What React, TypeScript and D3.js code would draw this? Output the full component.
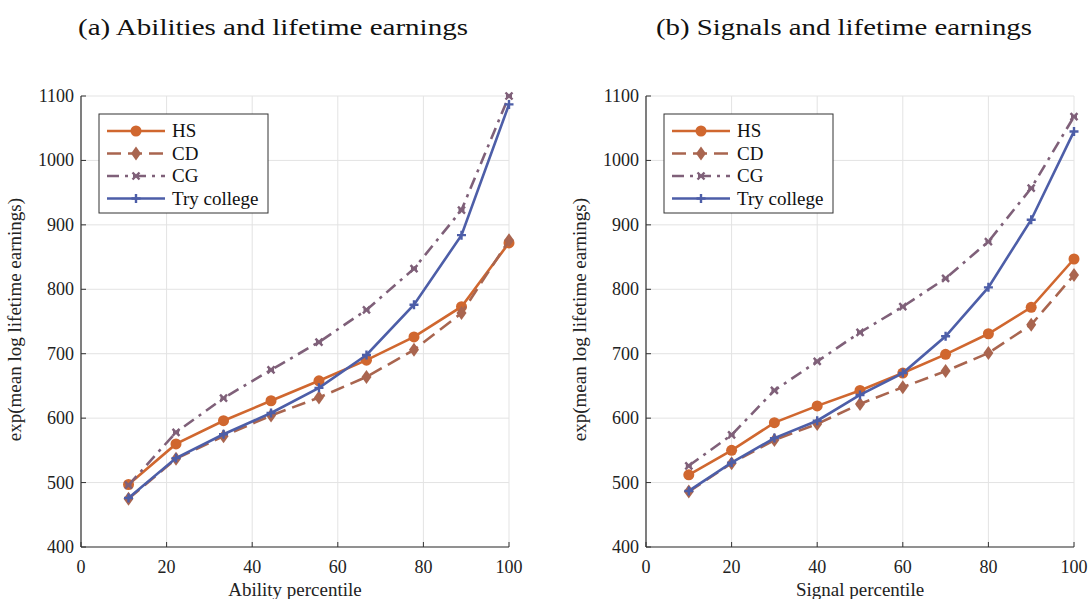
import React from "react";
import * as d3 from "d3";

// Percentile grids for the two panels
const abilityPct = [11.1, 22.2, 33.3, 44.4, 55.6, 66.7, 77.8, 88.9, 100];
const signalPct = [10, 20, 30, 40, 50, 60, 70, 80, 90, 100];

// Panel (a): earnings by ability percentile
const abilityHS = [497, 560, 596, 627, 658, 690, 726, 773, 872];
const abilityCD = [475, 537, 572, 604, 632, 664, 706, 763, 876];
const abilityCG = [496, 578, 631, 675, 718, 768, 832, 923, 1100];
const abilityTry = [476, 538, 575, 608, 647, 698, 776, 884, 1087];

// Panel (b): earnings by signal percentile
const signalHS = [512, 550, 593, 619, 643, 670, 699, 731, 772, 847];
const signalCD = [486, 530, 566, 591, 622, 648, 673, 701, 745, 822];
const signalCG = [526, 574, 643, 688, 733, 773, 817, 874, 957, 1068];
const signalTry = [487, 531, 569, 596, 636, 670, 727, 803, 908, 1045];

const xTicks = [0, 20, 40, 60, 80, 100];
const yTicks = [400, 500, 600, 700, 800, 900, 1000, 1100];

const seriesNames = ["HS", "CD", "CG", "Try college"];

const FONT = "'Liberation Serif', 'DejaVu Serif', serif";

type Style = { color: string; dash: string; marker: "circle" | "diamond" | "x" | "plus" };
const styles: Style[] = [
  { color: "#d0672f", dash: "", marker: "circle" },
  { color: "#a9654f", dash: "14 7", marker: "diamond" },
  { color: "#7f6079", dash: "12 6 3 6", marker: "x" },
  { color: "#4d5ea8", dash: "", marker: "plus" },
];

function Marker({ kind, x, y, color }: { kind: Style["marker"]; x: number; y: number; color: string }) {
  if (kind === "circle") return <circle cx={x} cy={y} r={5.5} fill={color} />;
  if (kind === "diamond")
    return <path d={`M${x},${y - 7}L${x + 5},${y}L${x},${y + 7}L${x - 5},${y}Z`} fill={color} />;
  if (kind === "x")
    return (
      <path
        d={`M${x - 3.5},${y - 3.5}L${x + 3.5},${y + 3.5}M${x - 3.5},${y + 3.5}L${x + 3.5},${y - 3.5}M${x - 3},${y}L${x + 3},${y}`}
        stroke={color}
        strokeWidth={2.4}
      />
    );
  return (
    <path d={`M${x - 4.5},${y}L${x + 4.5},${y}M${x},${y - 4.5}L${x},${y + 4.5}`} stroke={color} strokeWidth={2.4} />
  );
}

function Panel({
  left,
  title,
  titleX,
  titleW,
  xLabel,
  xs,
  ys,
}: {
  left: number;
  title: string;
  titleX: number;
  titleW: number;
  xLabel: string;
  xs: number[];
  ys: number[][];
}) {
  const x = d3.scaleLinear().domain([0, 100]).range([left, left + 428]);
  const y = d3.scaleLinear().domain([400, 1100]).range([547, 96]);
  const line = d3
    .line<number>()
    .x((_, i) => x(xs[i]))
    .y((d) => y(d));
  const lx = left + 18;
  const ly = 114;
  return (
    <g fontFamily={FONT}>
      <text x={titleX} y={35} fontSize={24} fill="#111" textLength={titleW} lengthAdjust="spacingAndGlyphs">
        {title}
      </text>
      {/* grid */}
      {xTicks.map((t) => (
        <line key={"gx" + t} x1={x(t)} x2={x(t)} y1={y(400)} y2={y(1100)} stroke="#e3e3e3" strokeWidth={1} />
      ))}
      {yTicks.map((t) => (
        <line key={"gy" + t} x1={x(0)} x2={x(100)} y1={y(t)} y2={y(t)} stroke="#e3e3e3" strokeWidth={1} />
      ))}
      {/* axes */}
      <line x1={x(0)} x2={x(0)} y1={y(400)} y2={y(1100)} stroke="#333" strokeWidth={1.2} />
      <line x1={x(0)} x2={x(100)} y1={y(400)} y2={y(400)} stroke="#333" strokeWidth={1.2} />
      {xTicks.map((t) => (
        <g key={"tx" + t}>
          <line x1={x(t)} x2={x(t)} y1={y(400)} y2={y(400) - 5} stroke="#333" strokeWidth={1} />
          <text x={x(t)} y={573} textAnchor="middle" fontSize={18} fill="#222">
            {t}
          </text>
        </g>
      ))}
      {yTicks.map((t) => (
        <g key={"ty" + t}>
          <line x1={x(0)} x2={x(0) + 5} y1={y(t)} y2={y(t)} stroke="#333" strokeWidth={1} />
          <text x={x(0) - 7} y={y(t) + 6} textAnchor="end" fontSize={18} fill="#222">
            {t}
          </text>
        </g>
      ))}
      <text x={x(50)} y={596} textAnchor="middle" fontSize={19} fill="#222">
        {xLabel}
      </text>
      <text
        transform={`translate(${left - 60},${y(753)}) rotate(-90)`}
        textAnchor="middle"
        fontSize={19}
        fill="#222"
      >
        exp(mean log lifetime earnings)
      </text>
      {/* series */}
      {ys.map((s, k) => (
        <g key={"s" + k}>
          <path
            d={line(s) || ""}
            fill="none"
            stroke={styles[k].color}
            strokeWidth={2.6}
            strokeDasharray={styles[k].dash}
          />
          {s.map((v, i) => (
            <Marker key={i} kind={styles[k].marker} x={x(xs[i])} y={y(v)} color={styles[k].color} />
          ))}
        </g>
      ))}
      {/* legend */}
      <rect x={lx} y={ly} width={169} height={99} fill="#fff" stroke="#333" strokeWidth={1} />
      {seriesNames.map((n, k) => {
        const ry = ly + 17 + k * 22.5;
        return (
          <g key={"l" + n}>
            <line
              x1={lx + 8}
              x2={lx + 66}
              y1={ry}
              y2={ry}
              stroke={styles[k].color}
              strokeWidth={2.6}
              strokeDasharray={styles[k].dash}
            />
            <Marker kind={styles[k].marker} x={lx + 37} y={ry} color={styles[k].color} />
            <text x={lx + 73} y={ry + 6} fontSize={19} fill="#111">
              {n}
            </text>
          </g>
        );
      })}
    </g>
  );
}

export default function App() {
  return (
    <svg width={1088} height={599} style={{ position: "absolute", left: 0, top: 0, background: "#fff" }}>
      <rect width={1088} height={599} fill="#fff" />
      <Panel
        left={81}
        title="(a) Abilities and lifetime earnings"
        titleX={78}
        titleW={390}
        xLabel="Ability percentile"
        xs={abilityPct}
        ys={[abilityHS, abilityCD, abilityCG, abilityTry]}
      />
      <Panel
        left={646}
        title="(b) Signals and lifetime earnings"
        titleX={656}
        titleW={376}
        xLabel="Signal percentile"
        xs={signalPct}
        ys={[signalHS, signalCD, signalCG, signalTry]}
      />
    </svg>
  );
}
